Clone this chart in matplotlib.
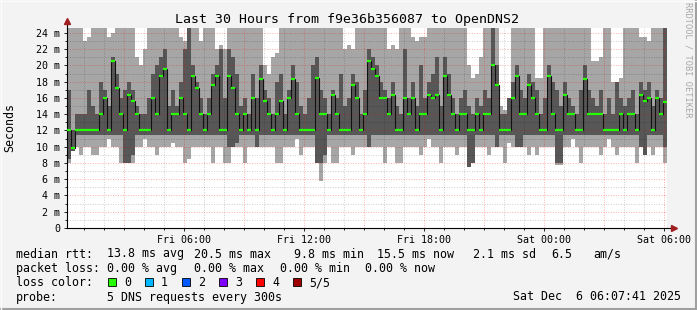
import numpy as np
import matplotlib
matplotlib.use('Agg')
import matplotlib.pyplot as plt
from matplotlib.patches import Rectangle
from matplotlib.lines import Line2D

# time axis: hours since Fri 00:00, one column per 12 minutes
start_hr = 7 / 60 + 41 / 3600
step_hr = 0.2

# median rtt (ms) per column
med = [12, 9.8, 12, 12, 12, 12, 12, 12, 14, 16,
       12, 20.5, 17.2, 14, 12, 16.4, 15.6, 14, 12, 12,
       12, 16, 14, 18.7, 19.5, 12, 14, 14, 16, 14,
       12, 18.7, 17.2, 14, 12, 14, 17.6, 18.7, 12, 12,
       18.7, 17.2, 14, 12, 14, 12, 16, 12, 18.3, 15.6,
       14, 12, 14, 15.6, 12, 16, 18.3, 14, 12, 12,
       12, 12, 18.5, 14, 14, 12, 16.4, 14, 12, 12,
       12, 17.6, 16, 12, 14, 20.5, 19.5, 18.7, 16, 16,
       14, 16.4, 12, 12, 16, 14, 16, 12, 14, 14,
       16.4, 16, 16.4, 12, 18.7, 16.4, 14, 12, 14, 14,
       12, 12, 14, 12, 14, 14, 20, 17.6, 12, 12,
       12, 16, 18.7, 14, 14, 17.6, 16, 14, 12, 12,
       18.7, 14, 12, 12, 16.4, 14, 14, 12, 12, 18.3,
       14, 14, 14, 14, 12, 12, 12, 12, 14, 12,
       14, 14, 12, 16.4, 15.6, 16, 12, 16, 14, 15.5]

# dark smoke (inner pings)
dlo = [8.5, 9.5, 11.5, 11.5, 11.5, 11.5, 11.5, 11.5, 11.5, 11.5,
       11.5, 11.5, 11.5, 11.5, 8, 8, 9, 11.5, 11.5, 11.5,
       11.5, 11.5, 11.5, 11.5, 11.5, 11.5, 11.5, 11.5, 11.5, 11.5,
       11.5, 11.5, 11.5, 11.5, 11.5, 11.5, 11.5, 11.5, 11.5, 11.5,
       10, 10, 10.5, 11.5, 11.5, 11.5, 11.5, 10, 11.5, 11.5,
       11.5, 11.5, 11.5, 11.5, 11.5, 11.5, 11.5, 11.5, 11.5, 11.5,
       11.5, 11.5, 8, 8, 9, 11.5, 11.5, 11.5, 11.5, 11.5,
       11.5, 11.5, 11.5, 11.5, 11.5, 10, 11.5, 11.5, 11.5, 11.5,
       11.5, 11.5, 11.5, 11.5, 11.5, 11.5, 11.5, 11.5, 11.5, 11.5,
       11.5, 11.5, 11.5, 11.5, 11.5, 11.5, 11.5, 11.5, 11.5, 11.5,
       7.5, 8, 11.5, 11.5, 11.5, 11.5, 11.5, 10, 11.5, 11.5,
       11.5, 11.5, 10, 10, 11.5, 11.5, 11.5, 11.5, 11.5, 11.5,
       11.5, 11.5, 8, 8, 11.5, 11.5, 11.5, 11.5, 11.5, 11.5,
       11.5, 11.5, 11.5, 11.5, 11.5, 11.5, 11.5, 11.5, 11.5, 11.5,
       11.5, 11.5, 11.5, 10, 9, 11.5, 11.5, 11.5, 11.5, 10]
dhi = [17, 12, 14, 14, 14, 17, 15, 14, 18, 17,
       15, 21, 19, 16, 17, 18, 17, 15, 14, 14,
       16, 19, 20, 21, 22, 15, 17, 15, 18, 22,
       24.6, 20, 18, 16, 14, 16, 19, 20, 22, 16,
       22, 21, 19, 15, 16, 14, 19, 16, 20, 17,
       16, 14, 18, 19, 14, 17, 20, 18, 15, 14,
       16, 20, 21, 17, 16, 14, 17, 16, 19, 15,
       16, 19, 18, 14, 17, 22, 21, 20, 18, 17,
       16, 18, 15, 14, 22, 16, 18, 15, 20, 16,
       18, 19, 21, 15, 21, 19, 16, 14, 16, 17,
       15, 14, 16, 15, 17, 16, 24.6, 20, 14, 14,
       16, 18, 20, 17, 16, 19, 18, 17, 14, 16,
       20, 18, 17, 15, 18, 16, 15, 14, 17, 20,
       17, 16, 15, 17, 14, 16, 14, 18, 16, 15,
       16, 17, 14, 18, 17, 18, 15, 17, 16, 24.6]

# light smoke (min .. max)
lo = [8, 9.5, 10, 9, 10, 10, 9, 9, 10, 10,
      11, 10, 10, 8, 8, 8, 8, 10, 10, 11,
      10, 10, 9, 10, 10, 10, 10.5, 10, 10, 8,
      8.5, 10, 10, 10, 10, 10, 8, 10, 10, 8,
      8, 10, 10, 10, 8, 10, 10, 11, 10, 10,
      10, 10, 8, 8, 10, 10, 10, 11, 9, 10,
      10, 10, 10, 5.8, 8, 10, 8, 8, 10, 10,
      10, 9, 10, 10, 10, 11, 10, 10, 10, 8,
      10, 10, 8, 8, 10, 10, 10, 10, 9, 10,
      11, 10, 10, 8, 10, 10, 10, 9, 10, 10,
      10, 8, 10, 10, 10, 9, 10, 10, 10, 8,
      10.5, 10, 10, 10, 10, 9, 10, 9, 10, 10,
      10, 10, 7.8, 7.8, 10, 10, 11, 10, 8, 10,
      10, 10, 10, 9, 10, 11, 10, 9, 10, 10,
      10, 10, 8, 10, 10, 10, 9, 10, 10, 8]
hi = [24.6, 24.6, 24.6, 24.6, 23, 23.5, 24.6, 24.6, 24.6, 24.6,
      23.5, 24, 24.6, 24.6, 24.6, 24.6, 24.6, 21, 20, 22,
      24.6, 24.6, 24.6, 24.6, 24.6, 24.6, 24.6, 24.6, 23.5, 23,
      24.6, 24.6, 24.6, 23, 24.6, 24.6, 24.6, 22, 22.5, 22,
      24.6, 24.6, 24.6, 24.6, 24.6, 24.6, 24.6, 24.6, 24.6, 20,
      19, 21, 21.5, 24.6, 24.6, 24.6, 24.6, 24.6, 24.6, 24.6,
      24.6, 24.6, 24.6, 24.6, 24.6, 24.6, 24.6, 24.6, 24.6, 22,
      22.5, 22, 24.6, 24.6, 24.6, 24.6, 24.6, 24.6, 24.6, 24.6,
      22, 22.5, 22, 24.6, 24.6, 24.6, 23.5, 23, 23.5, 23.5,
      24.6, 24.6, 24.6, 24.6, 24.6, 24.6, 24.6, 24.6, 24.6, 24.6,
      20, 18.5, 19, 21, 24.6, 24.6, 24.6, 24.6, 15, 14.5,
      16, 24.6, 24.6, 24.6, 24.6, 24.6, 24.6, 18.5, 18.5, 24.6,
      24.6, 24.6, 24.6, 24.6, 24.6, 24.6, 24.6, 24.6, 24.6, 24.6,
      24.6, 20.5, 20.5, 21, 24.6, 24.6, 18, 18, 18.5, 24.6,
      24.6, 24.6, 24.6, 23.5, 23.5, 23, 24.6, 24.6, 24.6, 24.6]

loss_labels = ['0', '1', '2', '3', '4', '5/5']
loss_colors = ['#26ff00', '#00b8ff', '#0059ff', '#7e00ff', '#ff0000', '#a10000']
xtick_hours = [6, 12, 18, 24, 30]
xtick_labels = ['Fri 06:00', 'Fri 12:00', 'Fri 18:00', 'Sat 00:00', 'Sat 06:00']

W, H = 697, 310
plt.rcParams['font.family'] = 'DejaVu Sans Mono'

fig = plt.figure(figsize=(W / 100, H / 100), dpi=100, facecolor='#f3f3f3')
ax = fig.add_axes([67 / W, 82 / H, 600 / W, 200 / H])
ax.set_facecolor('white')

edges = start_hr + step_hr * np.arange(len(med) + 1)


def ext(a):
    return list(a) + [a[-1]]


ax.fill_between(edges, ext(lo), ext(hi), step='post', color='#a6a6a6', lw=0, zorder=1)
ax.fill_between(edges, ext(dlo), ext(dhi), step='post', color='#575757', lw=0, zorder=1.5)

# grid on top of the smoke, semi transparent like rrdtool
dots = (0, (1, 1.6))
for h in range(1, 31):
    if h % 3 == 0:
        ax.axvline(h, color='#ff0000', alpha=0.33, lw=0.7, ls=dots, zorder=2.5)
    else:
        ax.axvline(h, color='#000000', alpha=0.2, lw=0.7, ls=dots, zorder=2.5)
for v in range(1, 25):
    if v % 2 == 0:
        ax.axhline(v, color='#ff0000', alpha=0.33, lw=0.7, ls=dots, zorder=2.5)
    else:
        ax.axhline(v, color='#000000', alpha=0.2, lw=0.7, ls=dots, zorder=2.5)

ax.step(edges, ext(med), where='post', color='#111111', lw=0.8, zorder=4)
ax.hlines(med, edges[:-1], edges[1:], color=loss_colors[0], lw=1.6, zorder=5)

ax.set_xlim(start_hr, start_hr + 30)
ax.set_ylim(0, 24.6)
ax.set_yticks(range(0, 25, 2))
ax.set_yticklabels(['0'] + ['%d m' % v for v in range(2, 25, 2)])
ax.set_yticks(range(1, 25, 2), minor=True)
ax.set_xticks(xtick_hours)
ax.set_xticklabels(xtick_labels)
ax.set_xticks(range(1, 31), minor=True)
ax.tick_params(which='both', direction='out', length=2.2, width=0.6, color='black',
               labelsize=7.2, pad=2.6)
ax.tick_params(which='minor', length=1.4)

for s in ['top', 'right']:
    ax.spines[s].set_visible(False)
for s in ['left', 'bottom']:
    ax.spines[s].set_color('black')
    ax.spines[s].set_linewidth(0.8)

# axis arrows
ax.plot([0, 0], [1.0, 1.02], transform=ax.transAxes, clip_on=False, color='black', lw=0.8)
ax.plot([1.0, 1.008], [0, 0], transform=ax.transAxes, clip_on=False, color='black', lw=0.8)
ax.plot([0], [1.035], marker='^', ms=4, color='#a02020', transform=ax.transAxes, clip_on=False)
ax.plot([1.011], [0], marker='>', ms=4, color='#a02020', transform=ax.transAxes, clip_on=False)


def fx(x):
    return x / W


def fy(y):
    return 1 - y / H


fig.text(fx(347), fy(23), 'Last 30 Hours from f9e36b356087 to OpenDNS2',
         ha='center', va='baseline', fontsize=9.5)
fig.text(fx(10), fy(128), 'Seconds', rotation=90, ha='center', va='center', fontsize=8.4)
fig.text(fx(688), fy(60), 'RRDTOOL / TOBI OETIKER', rotation=270, ha='center', va='center',
         fontsize=6.2, color='#a8a8a8')

fs = 8.4
rows = [
    (257.5, [(16, 'median rtt:'), (107, '13.8 ms avg'), (194, '20.5 ms max'),
             (294, '9.8 ms min'), (377, '15.5 ms now'), (473, '2.1 ms sd'),
             (551, '6.5'), (593, 'am/s')]),
    (272, [(16, 'packet loss:'), (107, '0.00 % avg'), (194, '0.00 % max'),
           (280, '0.00 % min'), (365, '0.00 % now')]),
    (286, [(16, 'loss color:')]),
    (300.5, [(16, 'probe:'), (107, '5 DNS requests every 300s'),
             (513, 'Sat Dec  6 06:07:41 2025')]),
]
for yb, parts in rows:
    for xp, txt in parts:
        fig.text(fx(xp), fy(yb), txt, ha='left', va='baseline', fontsize=fs)

for i, (lab, col) in enumerate(zip(loss_labels, loss_colors)):
    x0 = 108 + 37 * i
    fig.patches.append(Rectangle((fx(x0), fy(286)), 8 / W, 8 / H, transform=fig.transFigure,
                                 facecolor=col, edgecolor='black', lw=0.6))
    fig.text(fx(x0 + 16), fy(286), lab, ha='left', va='baseline', fontsize=fs)

# frame of the image
fig.add_artist(Line2D([0, 1], [1 / H, 1 / H], transform=fig.transFigure, color='#a0a0a0', lw=1.5))
fig.add_artist(Line2D([1 - 1 / W, 1 - 1 / W], [0, 1], transform=fig.transFigure, color='#a0a0a0', lw=1.5))
fig.add_artist(Line2D([0, 1], [1 - 0.5 / H, 1 - 0.5 / H], transform=fig.transFigure, color='#fcfcfc', lw=1))
fig.add_artist(Line2D([0.5 / W, 0.5 / W], [0, 1], transform=fig.transFigure, color='#fcfcfc', lw=1))

fig.savefig('out.png', dpi=100, facecolor=fig.get_facecolor())
